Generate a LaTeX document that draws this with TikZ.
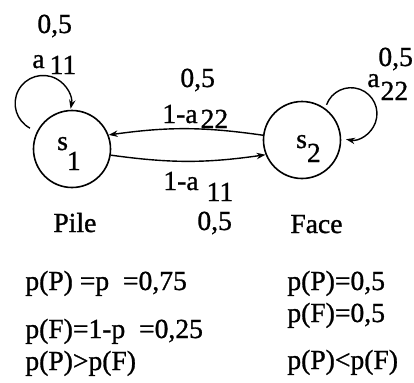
\documentclass[tikz,border=0pt]{standalone}
\usepackage{fontspec}
\setmainfont{Liberation Serif}[FakeBold=1]
\usetikzlibrary{arrows.meta}

\begin{document}
\begin{tikzpicture}[
  x=0.5pt, y=0.5pt,
  font=\fontsize{13.8}{15}\selectfont,
  state/.style={draw, circle, line width=0.8pt, inner sep=0pt, minimum size=38.5pt},
  lbl/.style={anchor=base west, inner sep=0pt},
  arrow/.style={-{Stealth[length=4.5pt, width=3.2pt]}, line width=0.7pt}
]
  \useasboundingbox (0,0) rectangle (414,-382);

  % states
  \node[state, text height=8pt, text depth=7pt] (s1) at (72,-149) {s\kern-0.5pt\raisebox{-10pt}{1}\kern3pt};
  \node[state, text height=10pt, text depth=2pt] (s2) at (302,-140) {\kern6.5pt s\raisebox{-7pt}{2}};

  % transitions
  \draw[arrow] (s2.173) to[bend right=8] (s1.21);
  \draw[arrow] (s1.-9) to[bend right=8] (s2.202);
  \draw[arrow] ([shift={(-7,3)}]s1.153) arc[start angle=242, end angle=-11, radius=28];
  \draw[arrow] ([shift={(2,3)}]s2.55) arc[start angle=160, end angle=-101, radius=26];

  % transition probabilities
  \node[lbl] (p11) at (37,-33) {0,5};
  \node[lbl] (a11) at (32,-68) {a\kern2.5pt\raisebox{-3pt}{11}};
  \node[lbl] (p21) at (180,-87) {0,5};
  \node[lbl] (a21) at (162,-123) {1-a\kern1.5pt\raisebox{-2.5pt}{22}};
  \node[lbl] (a12) at (163,-190) {1-a\kern4pt\raisebox{-5.5pt}{11}};
  \node[lbl] (p12) at (197,-230) {0,5};
  \node[lbl] (p22) at (378,-66) {0,5};
  \node[lbl] (a22) at (367,-87) {a\kern0.5pt\raisebox{-6.5pt}{22}};

  % captions
  \node[lbl] (pile) at (53,-232) {Pile};
  \node[lbl] (face) at (290,-233) {Face};
  \node[lbl] (pileP) at (25,-290) {p(P) =p\ \ =0,75};
  \node[lbl] (pileF) at (25,-338) {p(F)=1-p\ \ =0,25};
  \node[lbl] (pileR) at (25,-370) {p(P)>p(F)};
  \node[lbl] (faceP) at (287,-290) {p(P)=0,5};
  \node[lbl] (faceF) at (287,-322) {p(F)=0,5};
  \node[lbl] (faceR) at (287,-369) {p(P)<p(F)};
\end{tikzpicture}
\end{document}
